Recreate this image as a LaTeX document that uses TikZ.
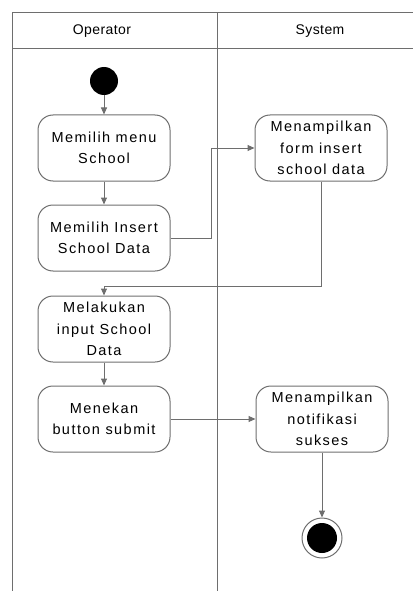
\documentclass[tikz,border=0pt]{standalone}
\usepackage{fontspec}
\setmainfont{Liberation Sans}[LetterSpace=10]
\usetikzlibrary{arrows.meta}
\usetikzlibrary{calc}

\definecolor{linegray}{HTML}{6E6E6E}
\tikzset{
	act/.style={draw=linegray,line width=1pt,rounded corners=15pt,minimum width=132pt,minimum height=66pt,align=center,font=\fontsize{14.5}{21.5}\selectfont},
	flow/.style={draw=linegray,line width=1pt,-{Triangle[length=7pt,width=6pt]}},
	lane/.style={draw=linegray,line width=1pt},
	lanehead/.style={font=\fontsize{14}{16}\selectfont\addfontfeature{LetterSpace=3}},
}

\begin{document}
\begin{tikzpicture}[x=1pt,y=-1pt]
	\useasboundingbox (0,0) rectangle (413,591);
	% swimlanes
	\draw[lane] (12,591) |- (413,13);
	\draw[lane] (12,49) -- (413,49);
	\draw[lane] (217,13) -- (217,591);
	\node[lanehead] (hOp) at (102,31) {Operator};
	\node[lanehead] (hSys) at (320,31) {System};
	% operator
	\node[circle,fill=black,minimum size=28pt,inner sep=0pt] (start) at (104,81) {};
	\node[act] (b1) at (104,148) {Memilih menu\\School};
	\node[act] (b2) at (104,238) {Memilih Insert\\School Data};
	\node[act] (b3) at (104,329) {Melakukan\\input School\\Data};
	\node[act] (b4) at (104,419) {Menekan\\button submit};
	% system
	\node[act] (s1) at (321,148) {Menampilkan\\form insert\\school data};
	\node[act] (s2) at (322,419) {Menampilkan\\notifikasi\\sukses};
	\node[circle,draw=linegray,line width=1pt,minimum size=40pt,inner sep=0pt] (end) at (322,538) {};
	\fill (end) circle [radius=15pt];
	% flows
	\draw[flow] (start) -- (b1);
	\draw[flow] (b1) -- (b2);
	\draw[flow] (b2.east) -- ++(41,0) |- (s1.west);
	\draw[flow] (s1.south) -- ++(0,105) -| (b3.north);
	\draw[flow] (b3) -- (b4);
	\draw[flow] (b4) -- (s2);
	\draw[flow] (s2) -- (end);
\end{tikzpicture}
\end{document}
